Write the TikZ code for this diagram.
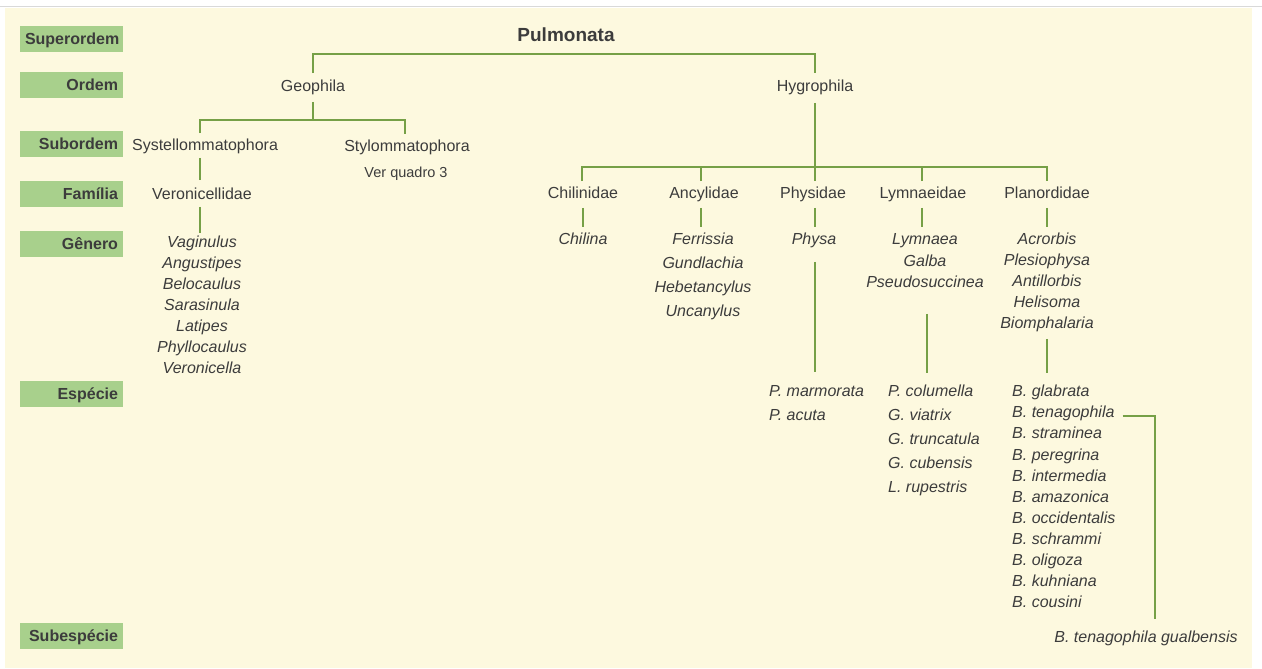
\documentclass[tikz,border=0pt]{standalone}
\usepackage{fontspec}
\setmainfont{Liberation Sans}
\usetikzlibrary{calc}
\definecolor{bgc}{RGB}{253,249,223}
\definecolor{boxc}{RGB}{168,208,140}
\definecolor{linec}{RGB}{118,160,70}
\definecolor{txtc}{RGB}{60,60,60}
\begin{document}
\begin{tikzpicture}[x=1pt,y=-1pt,
  conn/.style={draw=linec, line width=2.6pt},
  tx/.style={inner sep=0pt, text height=11.5pt, text depth=0pt, text=txtc, font=\fontsize{16}{19}\selectfont},
  it/.style={tx, font=\fontsize{16}{19}\selectfont\itshape},
  itw/.style={it, anchor=west},
  rank/.style={fill=boxc, minimum height=26pt, text width=93pt, inner xsep=5pt, inner ysep=0pt, align=right, text height=11.5pt, text depth=0pt, text=txtc, font=\fontsize{16}{19}\selectfont\bfseries},
]
\useasboundingbox (0,0) rectangle (1262,669);
\fill[white] (0,0) rectangle (1262,669);
\draw[black!15, line width=1pt] (0,7) -- (1262,7);
\fill[bgc] (5,8) rectangle (1252,668);

% rank labels
\node[rank] (r1) at (71.5,39) {Superordem};
\node[rank] (r2) at (71.5,85) {Ordem};
\node[rank] (r3) at (71.5,144) {Subordem};
\node[rank] (r4) at (71.5,194) {Família};
\node[rank] (r5) at (71.5,244) {Gênero};
\node[rank] (r6) at (71.5,394) {Espécie};
\node[rank] (r7) at (71.5,636) {Subespécie};

% taxa
\node[tx, font=\fontsize{19}{22}\selectfont\bfseries, text height=13.6pt] (pul) at (566,35) {Pulmonata};
\node[tx] (geo) at (313,86) {Geophila};
\node[tx] (hyg) at (815,86) {Hygrophila};
\node[tx] (sys) at (205,145) {Systellommatophora};
\node[tx] (sty) at (407,146) {Stylommatophora};
\node[tx, font=\fontsize{14.5}{17}\selectfont, text height=10.4pt] (verq) at (406,172) {Ver quadro 3};
\node[tx] (ver) at (202,194) {Veronicellidae};
\foreach \t [count=\i] in {Vaginulus,Angustipes,Belocaulus,Sarasinula,Latipes,Phyllocaulus,Veronicella}
  \node[it] (v\i) at (202,{242+21*(\i-1)}) {\t};

\node[tx] (chi) at (583,193) {Chilinidae};
\node[tx] (anc) at (704,193) {Ancylidae};
\node[tx] (phy) at (813,193) {Physidae};
\node[tx] (lym) at (923,193) {Lymnaeidae};
\node[tx] (pla) at (1047,193) {Planordidae};

\node[it] (chil) at (583,239) {Chilina};
\foreach \t [count=\i] in {Ferrissia,Gundlachia,Hebetancylus,Uncanylus}
  \node[it] (a\i) at (703,{239+24*(\i-1)}) {\t};
\node[it] (physa) at (814,239) {Physa};
\foreach \t [count=\i] in {Lymnaea,Galba,Pseudosuccinea}
  \node[it] (l\i) at (925,{239+21.5*(\i-1)}) {\t};
\foreach \t [count=\i] in {Acrorbis,Plesiophysa,Antillorbis,Helisoma,Biomphalaria}
  \node[it] (b\i) at (1047,{239+21*(\i-1)}) {\t};

\foreach \t [count=\i] in {P. marmorata,P. acuta}
  \node[itw] (ps\i) at (769,{391+24*(\i-1)}) {\t};
\foreach \t [count=\i] in {P. columella,G. viatrix,G. truncatula,G. cubensis,L. rupestris}
  \node[itw] (ls\i) at (888,{391+24*(\i-1)}) {\t};
\foreach \t [count=\i] in {B. glabrata,B. tenagophila,B. straminea,B. peregrina,B. intermedia,B. amazonica,B. occidentalis,B. schrammi,B. oligoza,B. kuhniana,B. cousini}
  \node[itw] (bs\i) at (1012,{391+21.1*(\i-1)}) {\t};
\node[it] (gual) at (1146,637) {B. tenagophila gualbensis};

% connectors
\draw[conn] ([yshift=7pt]geo.north) -- ([yshift=26pt]geo.north) -| ([yshift=7pt]hyg.north);
\draw[conn] ([yshift=-10pt]geo.south) -- ([yshift=-28pt]geo.south);
\draw[conn] ([xshift=-5pt,yshift=6pt]sys.north) |- ([yshift=-28pt]geo.south) -| ([xshift=-2pt,yshift=6pt]sty.north);
\draw[conn] ([xshift=-5pt,yshift=-7pt]sys.south) -- ([xshift=-2pt,yshift=8pt]ver.north);
\draw[conn] ([xshift=-2pt,yshift=-7pt]ver.south) -- ([xshift=-2pt,yshift=3pt]v1.north);

\draw[conn] ([yshift=-11pt]hyg.south) -- ([xshift=2pt,yshift=6pt]phy.north);
\draw[conn] ([xshift=-1pt,yshift=6pt]chi.north) -- ([xshift=-1pt,yshift=20pt]chi.north) -- ([yshift=20pt]pla.north) -- ([yshift=6pt]pla.north);
\draw[conn] ([xshift=-3pt,yshift=6pt]anc.north) -- ([xshift=-3pt,yshift=20pt]anc.north);
\draw[conn] ([xshift=-1pt,yshift=6pt]lym.north) -- ([xshift=-1pt,yshift=20pt]lym.north);

\draw[conn] ([yshift=-9pt]chi.south) -- ([yshift=6pt]chil.north);
\draw[conn] ([xshift=-3pt,yshift=-9pt]anc.south) -- ([xshift=-2pt,yshift=6pt]a1.north);
\draw[conn] ([xshift=2pt,yshift=-9pt]phy.south) -- ([xshift=1pt,yshift=6pt]physa.north);
\draw[conn] ([xshift=-1pt,yshift=-9pt]lym.south) -- ([xshift=-3pt,yshift=6pt]l1.north);
\draw[conn] ([yshift=-9pt]pla.south) -- ([yshift=6pt]b1.north);

\draw[conn] ([xshift=1pt,yshift=-17pt]physa.south) -- ($(physa.south |- ps1.north)+(1,-13)$);
\draw[conn] ([xshift=2pt,yshift=-26pt]l3.south) -- ($(l3.south |- ls1.north)+(2,-12)$);
\draw[conn] ([yshift=-10pt]b5.south) -- ($(b5.south |- bs1.north)+(0,-12)$);
\draw[conn] ($(bs2.east)+(8,4)$) -| ($(gual.north)+(9,-12)$);
\end{tikzpicture}
\end{document}
